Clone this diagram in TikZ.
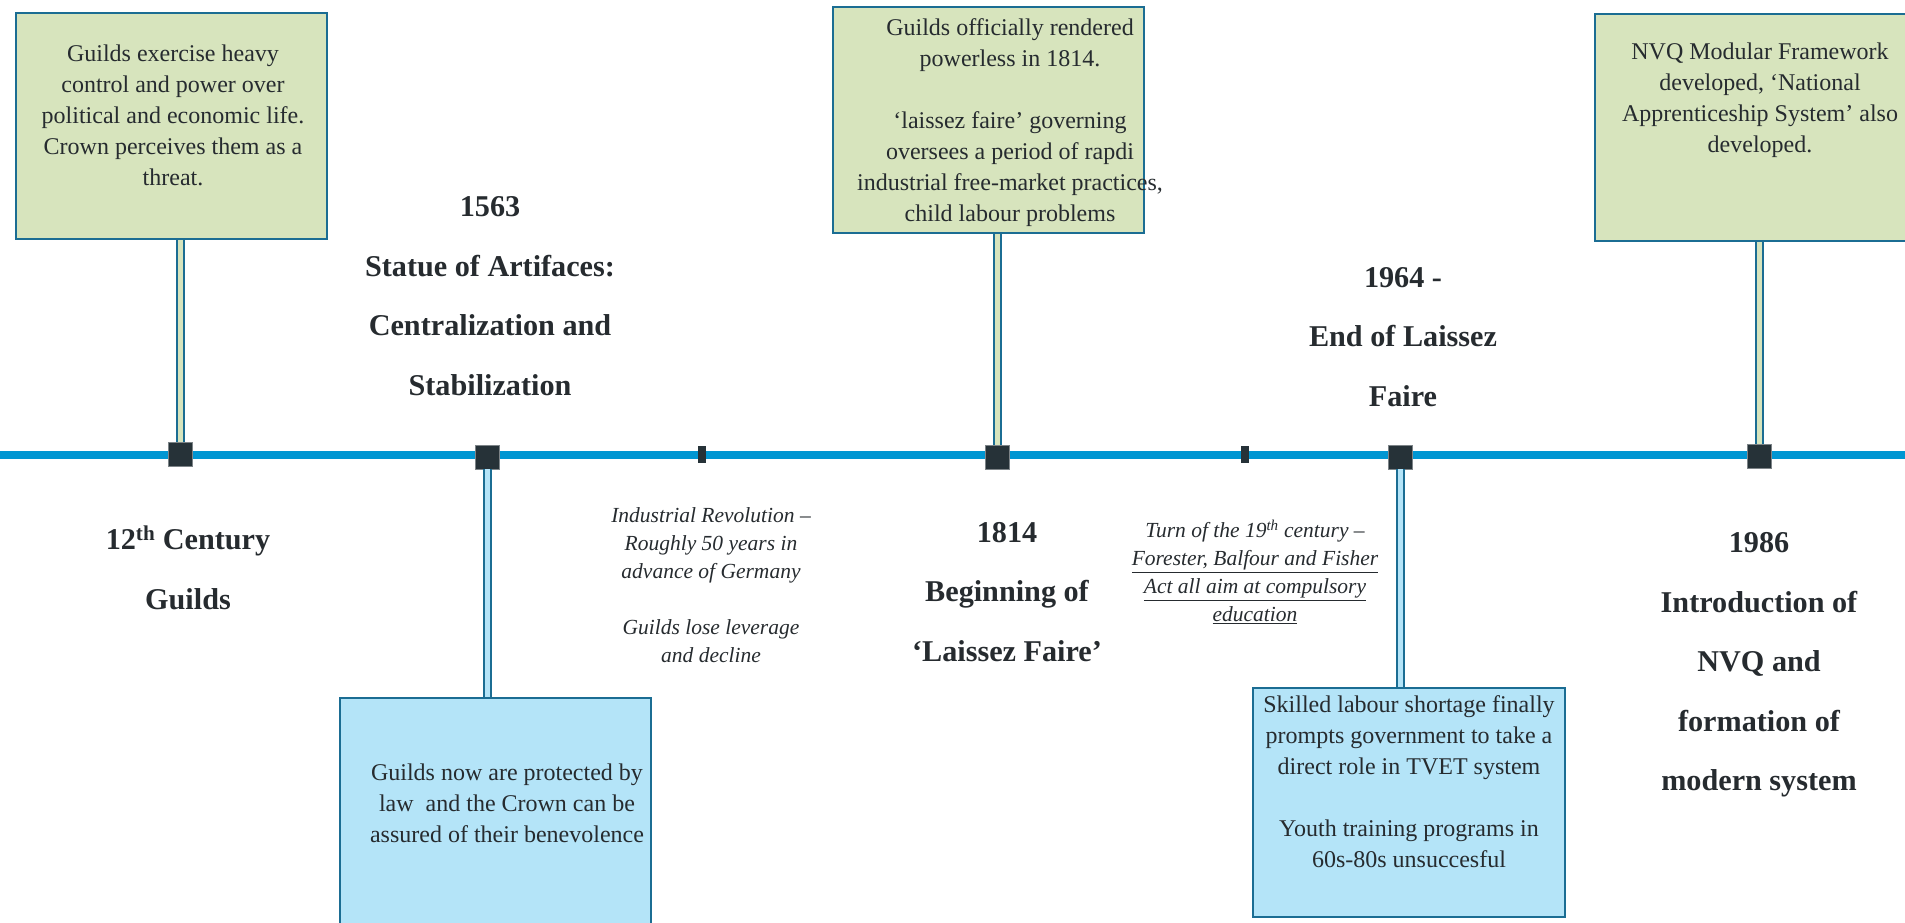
\documentclass[tikz,border=0pt]{standalone}
\usepackage{fontspec}
\setmainfont{Liberation Serif}
\usetikzlibrary{positioning}
\definecolor{leaf}{HTML}{D7E4BD}
\definecolor{sky}{HTML}{B4E4F8}
\definecolor{edge}{HTML}{1B6D93}
\definecolor{axis}{HTML}{0096D2}
\definecolor{block}{HTML}{263238}
\definecolor{ink}{HTML}{262B2F}

\begin{document}
\begin{tikzpicture}[x=1pt, y=-1pt,
    gbox/.style={draw=edge, fill=leaf, line width=2pt, minimum width=311pt, minimum height=226pt, inner sep=0pt},
    bbox/.style={gbox, fill=sky},
    boxtext/.style={align=center, text=ink, inner sep=0pt, font=\fontsize{24}{31}\selectfont},
    hdr/.style={align=center, text=ink, inner sep=0pt, font=\bfseries\fontsize{30.2}{59.5}\selectfont},
    note/.style={align=center, text=ink, inner sep=0pt, font=\itshape\fontsize{21.5}{28}\selectfont},
    evt/.style={fill=block, draw=block!60!white, line width=0.8pt, minimum size=24pt, inner sep=0pt},
    minor/.style={fill=block, minimum width=8pt, minimum height=17pt, inner sep=0pt},
    gstem/.style={draw=edge, line width=2pt, double=leaf, double distance=5pt},
    bstem/.style={gstem, double=sky}]
    \useasboundingbox (0,0) rectangle (1905,923);

    % Timeline
    \draw[line width=8pt, axis] (0,455) -- (1905,455);

    % Boxes above the line
    \node[gbox] (g1) at (171,126) {};
    \node[boxtext] (g1txt) at (173,115) {Guilds exercise heavy\\ control and power over\\ political and economic life.\\ Crown perceives them as a\\ threat.};
    \node[gbox] (g2) at (988.5,120) {};
    \node[boxtext] (g2txt) at (1010,123) {Guilds officially rendered\\ powerless in 1814.\\[31pt] ‘laissez faire’ governing\\ oversees a period of rapdi\\ industrial free-market practices,\\ child labour problems};
    \node[gbox, minimum width=320pt, minimum height=227pt] (g3) at (1755,127.5) {};
    \node[boxtext] (g3txt) at (1760,100) {NVQ Modular Framework\\ developed, ‘National\\ Apprenticeship System’ also\\ developed.};

    % Boxes below the line
    \node[bbox, minimum height=227pt] (b1) at (495.5,811.5) {};
    \node[boxtext] (b1txt) at (507,803) {Guilds now are protected by\\ law~ and the Crown can be\\ assured of their benevolence};
    \node[bbox, minimum width=312pt, minimum height=229pt] (b2) at (1409,802.5) {};
    \node[boxtext] (b2txt) at (1409,782) {Skilled labour shortage finally\\ prompts government to take a\\ direct role in TVET system\\[31pt] Youth training programs in\\ 60s-80s unsuccesful};

    % Markers
    \node[evt] (m1) at (180,454) {};
    \node[evt] (m2) at (487,457) {};
    \node[minor] (t1) at (702,454) {};
    \node[evt] (m3) at (997,457) {};
    \node[minor] (t2) at (1245,454) {};
    \node[evt] (m4) at (1400,457) {};
    \node[evt] (m5) at (1759,456) {};

    % Stems
    \draw[gstem] (g1.south -| m1) -- (m1.north);
    \draw[bstem] (m2.south) -- (b1.north -| m2);
    \draw[gstem] (g2.south -| m3) -- (m3.north);
    \draw[bstem] (m4.south) -- (b2.north -| m4);
    \draw[gstem] (g3.south -| m5) -- (m5.north);

    % Headings
    \node[hdr] (h1) at (188,568) {12\textsuperscript{th} Century\\ Guilds};
    \node[hdr] (h2) at (490,296) {1563\\ Statue of Artifaces:\\ Centralization and\\ Stabilization};
    \node[hdr] (h3) at (1007,592) {1814\\ Beginning of\\ ‘Laissez Faire’};
    \node[hdr] (h4) at (1403,337) {1964 -\\ End of Laissez\\ Faire};
    \node[hdr] (h5) at (1759,665) {1986\\ Introduction of\\ NVQ and\\ formation of\\ modern system};

    % Notes between events
    \node[note] (n1) at (711,585) {Industrial Revolution –\\ Roughly 50 years in\\ advance of Germany\\[28pt] Guilds lose leverage\\ and decline};
    \node[note] (n2) at (1255,572) {Turn of the 19\textsuperscript{th} century –\\ \underline{Forester, Balfour and Fisher}\\ \underline{Act all aim at compulsory}\\ \underline{education}};
\end{tikzpicture}
\end{document}
